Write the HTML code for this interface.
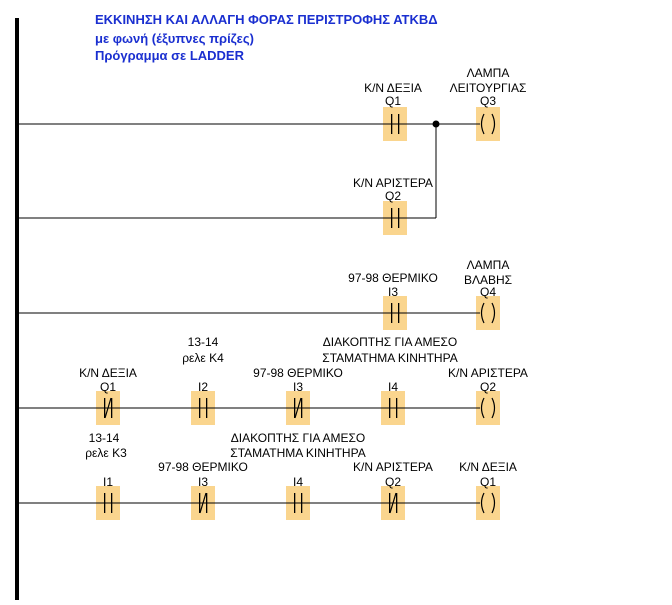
<!DOCTYPE html>
<html><head><meta charset="utf-8"><style>
body{margin:0;background:#fff;width:672px;height:600px;overflow:hidden}
text{font-family:"Liberation Sans",sans-serif;font-size:12px;fill:#000}
.t{font-size:13px;font-weight:bold;fill:#1a2fd0}
</style></head><body>
<svg width="672" height="600" xmlns="http://www.w3.org/2000/svg">
<rect x="15" y="18" width="4" height="582" fill="#000"/>
<text class="t" x="95" y="24">ΕΚΚΙΝΗΣΗ ΚΑΙ ΑΛΛΑΓΗ ΦΟΡΑΣ ΠΕΡΙΣΤΡΟΦΗΣ ΑΤΚΒΔ</text>
<text class="t" x="95" y="43">με φωνή (έξυπνες πρίζες)</text>
<text class="t" x="95" y="60">Πρόγραμμα σε LADDER</text>
<g stroke="#000" stroke-width="1" fill="none">
<line x1="19" y1="124" x2="478" y2="124"/>
<line x1="19" y1="218" x2="436" y2="218"/>
<line x1="436" y1="124" x2="436" y2="218"/>
<line x1="19" y1="313" x2="478" y2="313"/>
<line x1="19" y1="408" x2="478" y2="408"/>
<line x1="19" y1="503" x2="478" y2="503"/>
</g>
<circle cx="436" cy="124" r="3.5" fill="#000"/>
<defs>
<g id="no"><rect x="-12" y="-17" width="24" height="34" fill="#fad58e"/><rect x="-12" y="-0.5" width="24" height="1" fill="#000"/><rect x="-4" y="-10" width="1.3" height="20" fill="#000"/><rect x="3" y="-10" width="1.3" height="20" fill="#000"/></g>
<g id="nc"><use href="#no"/><line x1="-3" y1="10" x2="3" y2="-10" stroke="#000" stroke-width="1.2"/></g>
<g id="coil"><rect x="-12" y="-17" width="24" height="34" fill="#fad58e"/><rect x="-12" y="-0.5" width="4" height="1" fill="#000"/><path d="M-4,-10 Q-9,0 -4,10 M4,-10 Q9,0 4,10" stroke="#000" stroke-width="1.2" fill="none"/></g>
</defs>
<use href="#no" x="395" y="124"/><use href="#coil" x="488" y="124"/>
<use href="#no" x="395" y="218"/>
<use href="#no" x="395" y="313"/><use href="#coil" x="488" y="313"/>
<use href="#nc" x="108" y="408"/><use href="#no" x="203" y="408"/><use href="#nc" x="298" y="408"/><use href="#no" x="393" y="408"/><use href="#coil" x="488" y="408"/>
<use href="#no" x="108" y="503"/><use href="#nc" x="203" y="503"/><use href="#no" x="298" y="503"/><use href="#nc" x="393" y="503"/><use href="#coil" x="488" y="503"/>
<g text-anchor="middle">
<text x="393" y="92">Κ/Ν ΔΕΞΙΑ</text><text x="393" y="105">Q1</text>
<text x="488" y="77">ΛΑΜΠΑ</text><text x="488" y="92">ΛΕΙΤΟΥΡΓΙΑΣ</text><text x="488" y="105">Q3</text>
<text x="393" y="187">Κ/Ν ΑΡΙΣΤΕΡΑ</text><text x="393" y="200">Q2</text>
<text x="393" y="282">97-98 ΘΕΡΜΙΚΟ</text><text x="393" y="296">I3</text>
<text x="488" y="269">ΛΑΜΠΑ</text><text x="488" y="284">ΒΛΑΒΗΣ</text><text x="488" y="296">Q4</text>
<text x="108" y="377">Κ/Ν ΔΕΞΙΑ</text><text x="108" y="391">Q1</text>
<text x="203" y="346">13-14</text><text x="203" y="362">ρελε Κ4</text><text x="203" y="391">I2</text>
<text x="298" y="377">97-98 ΘΕΡΜΙΚΟ</text><text x="298" y="391">I3</text>
<text x="390" y="346">ΔΙΑΚΟΠΤΗΣ ΓΙΑ ΑΜΕΣΟ</text><text x="390" y="362">ΣΤΑΜΑΤΗΜΑ ΚΙΝΗΤΗΡΑ</text><text x="393" y="391">I4</text>
<text x="488" y="377">Κ/Ν ΑΡΙΣΤΕΡΑ</text><text x="488" y="391">Q2</text>
<text x="104" y="442">13-14</text><text x="106" y="457">ρελε Κ3</text><text x="108" y="486">I1</text>
<text x="203" y="471">97-98 ΘΕΡΜΙΚΟ</text><text x="203" y="486">I3</text>
<text x="298" y="442">ΔΙΑΚΟΠΤΗΣ ΓΙΑ ΑΜΕΣΟ</text><text x="298" y="457">ΣΤΑΜΑΤΗΜΑ ΚΙΝΗΤΗΡΑ</text><text x="298" y="486">I4</text>
<text x="393" y="471">Κ/Ν ΑΡΙΣΤΕΡΑ</text><text x="393" y="486">Q2</text>
<text x="488" y="471">Κ/Ν ΔΕΞΙΑ</text><text x="488" y="486">Q1</text>
</g>
</svg>
</body></html>
